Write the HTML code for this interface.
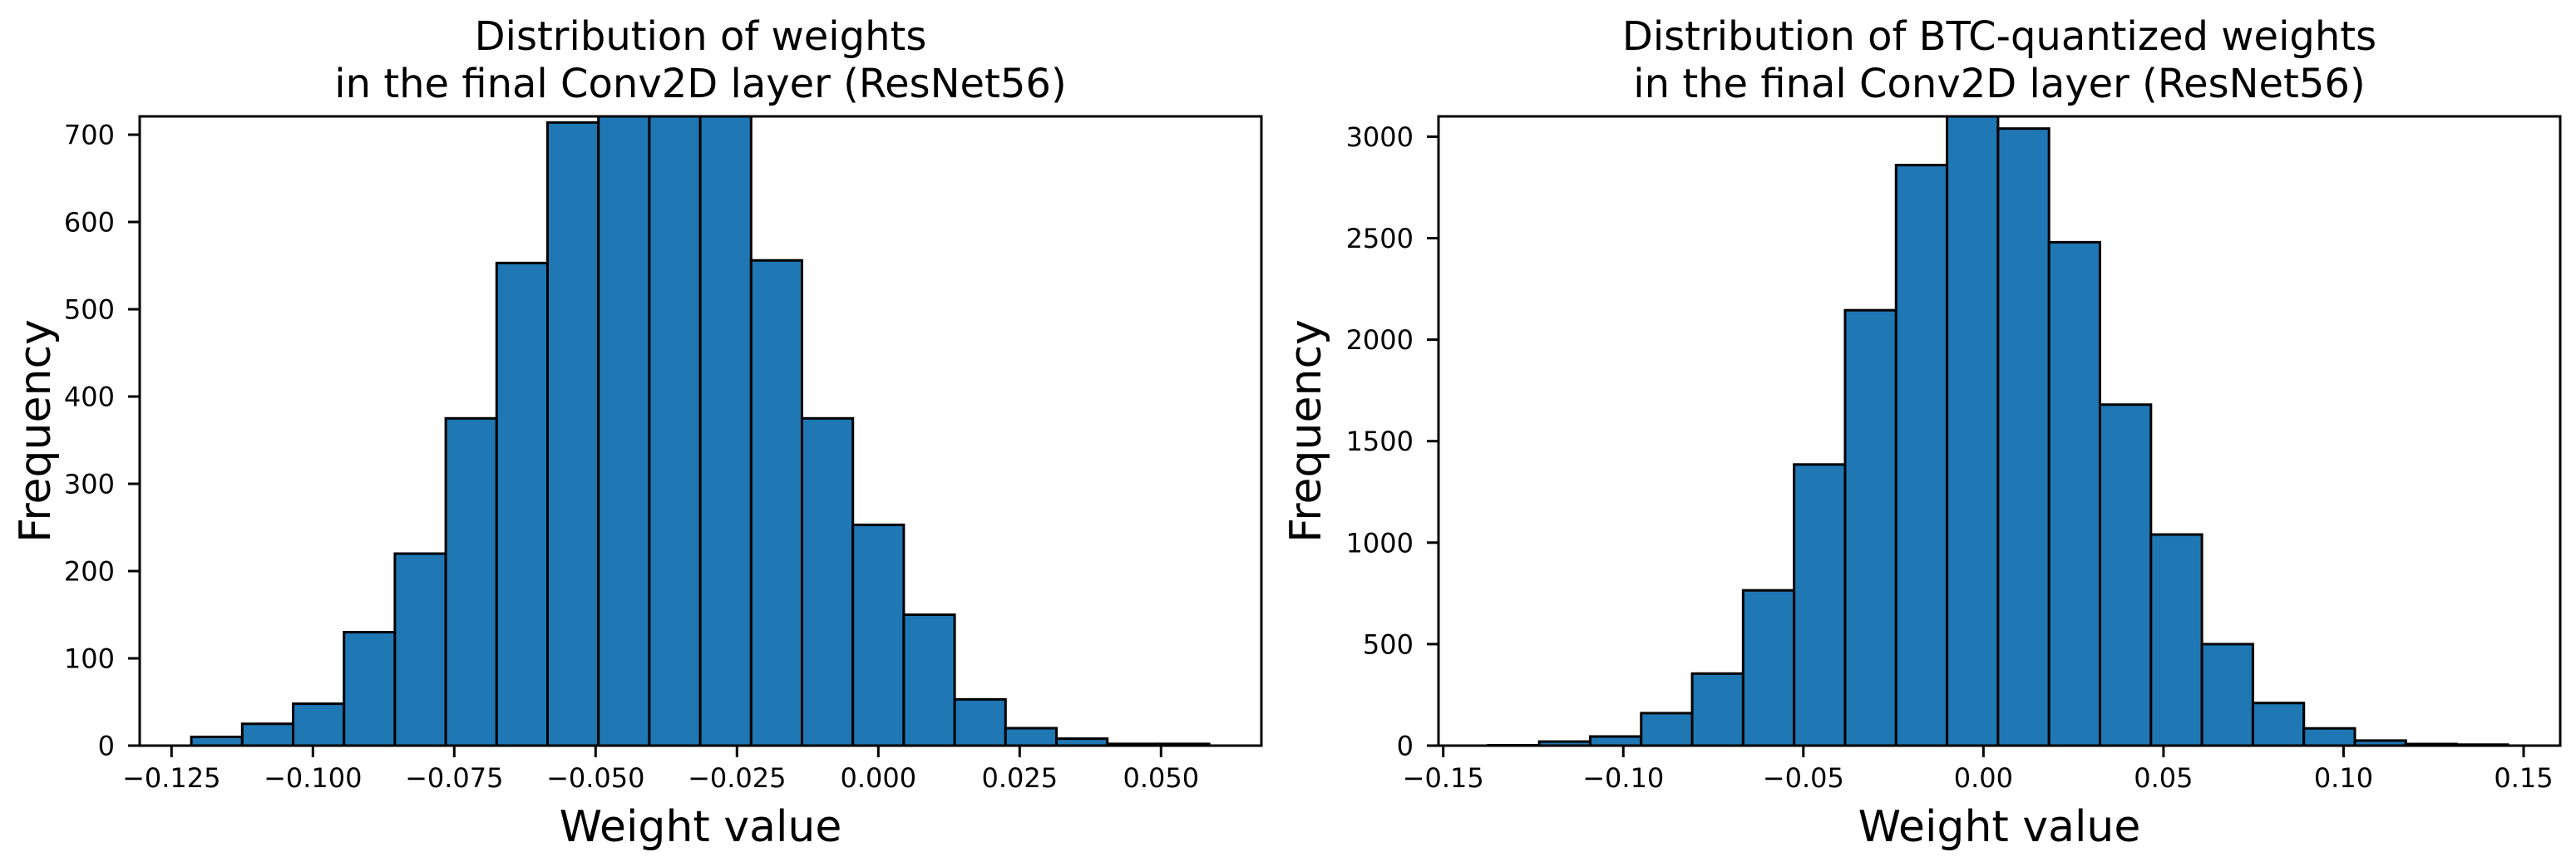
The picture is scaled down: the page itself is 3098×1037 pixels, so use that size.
<!DOCTYPE html>
<html><head><meta charset="utf-8"><style>
html,body{margin:0;padding:0;background:#fff;}
svg{display:block;font-family:"DejaVu Sans","Liberation Sans",sans-serif;}
</style></head><body>
<svg id="fig" width="3098" height="1037" viewBox="0 0 3098 1037" xmlns="http://www.w3.org/2000/svg">
<rect width="3098" height="1037" fill="#fff"/>
</svg>
<script>
// Left chart data
const leftCounts = [10, 25, 48, 130, 220, 375, 553, 714, 790, 800, 770, 556, 375, 253, 150, 53, 20, 8, 2, 2];
const leftBinStart = -0.1215;
const leftBinEnd = 0.0585;
const leftXTicks = [-0.125, -0.100, -0.075, -0.050, -0.025, 0.000, 0.025, 0.050];
const leftXTickLabels = ["\u22120.125", "\u22120.100", "\u22120.075", "\u22120.050", "\u22120.025", "0.000", "0.025", "0.050"];
const leftYTicks = [0, 100, 200, 300, 400, 500, 600, 700];
// Right chart data
const rightCounts = [2, 20, 45, 160, 355, 765, 1385, 2145, 2860, 3250, 3040, 2480, 1680, 1040, 500, 210, 85, 25, 8, 5];
const rightBinStart = -0.1375;
const rightBinEnd = 0.1456;
const rightXTicks = [-0.15, -0.10, -0.05, 0.00, 0.05, 0.10, 0.15];
const rightXTickLabels = ["\u22120.15", "\u22120.10", "\u22120.05", "0.00", "0.05", "0.10", "0.15"];
const rightYTicks = [0, 500, 1000, 1500, 2000, 2500, 3000];

const NS = "http://www.w3.org/2000/svg";
const svg = document.getElementById("fig");
function mk(tag, attrs, parent) {
  const e = document.createElementNS(NS, tag);
  for (const k in attrs) e.setAttribute(k, attrs[k]);
  (parent || svg).appendChild(e);
  return e;
}

function drawChart(cfg) {
  const g = mk("g", {});
  
  
  const L = cfg.left, R = cfg.right, T = 140, B = 897;
  const xs = v => cfg.x0px + (v - cfg.x0val) * cfg.xscale;
  const ys = v => B - (v / cfg.ymax) * (B - T);
  const clipId = cfg.name + "-clip";
  const defs = mk("defs", {}, g);
  const cp = mk("clipPath", {id: clipId}, defs);
  mk("rect", {x: L, y: T, width: R - L, height: B - T}, cp);
  const bars = mk("g", {"clip-path": "url(#" + clipId + ")"}, g);
  const n = cfg.counts.length;
  const w = (cfg.binEnd - cfg.binStart) / n;
  for (let i = 0; i < n; i++) {
    const x1 = xs(cfg.binStart + i * w), x2 = xs(cfg.binStart + (i + 1) * w);
    const y = ys(cfg.counts[i]);
    const r = mk("rect", {x: x1, y: y, width: x2 - x1, height: B - y, fill: "#1f77b4", stroke: "#000", "stroke-width": 3}, bars);
    
    
  }
  const frame = mk("rect", {x: L, y: T, width: R - L, height: B - T, fill: "none", stroke: "#000", "stroke-width": 3}, g);
  
  
  cfg.xticks.forEach((v, i) => {
    const x = xs(v);
    mk("line", {x1: x, x2: x, y1: B, y2: B + 14, stroke: "#000", "stroke-width": 3}, g);
    const t = mk("text", {x: x, y: 947, "font-size": 32, "text-anchor": "middle", fill: "#000"}, g);
    t.textContent = cfg.xlabels[i];
    
    
  });
  cfg.yticks.forEach(v => {
    const y = ys(v);
    mk("line", {x1: L - 14, x2: L, y1: y, y2: y, stroke: "#000", "stroke-width": 3}, g);
    const t = mk("text", {x: L - 30, y: y + 11.5, "font-size": 32, "text-anchor": "end", fill: "#000"}, g);
    t.textContent = String(v);
    
    
  });
  const cx = (L + R) / 2;
  const t1 = mk("text", {x: cx, y: 60, "font-size": 48, "text-anchor": "middle", fill: "#000"}, g);
  t1.textContent = cfg.title1;
  
  
  const t2 = mk("text", {x: cx, y: 117, "font-size": 48, "text-anchor": "middle", fill: "#000"}, g);
  t2.textContent = cfg.title2;
  
  
  const xl = mk("text", {x: cx, y: 1012, "font-size": 52, "text-anchor": "middle", fill: "#000"}, g);
  xl.textContent = "Weight value";
  
  
  const ycx = cfg.ylabelX, ycy = (T + B) / 2;
  const yl = mk("text", {x: ycx, y: ycy, "font-size": 52, "text-anchor": "middle", fill: "#000", transform: "rotate(-90 " + ycx + " " + ycy + ")"}, g);
  yl.textContent = "Frequency";
  
  
}

drawChart({
  name: "left-histogram", left: 168, right: 1517,
  x0px: 206.3, x0val: -0.125, xscale: 6800, ymax: 721,
  counts: leftCounts, binStart: leftBinStart, binEnd: leftBinEnd,
  xticks: leftXTicks, xlabels: leftXTickLabels, yticks: leftYTicks,
  title1: "Distribution of weights", title2: "in the final Conv2D layer (ResNet56)",
  ylabelX: 60
});
drawChart({
  name: "right-histogram", left: 1730, right: 3079,
  x0px: 1735.7, x0val: -0.15, xscale: 4331, ymax: 3100,
  counts: rightCounts, binStart: rightBinStart, binEnd: rightBinEnd,
  xticks: rightXTicks, xlabels: rightXTickLabels, yticks: rightYTicks,
  title1: "Distribution of BTC-quantized weights", title2: "in the final Conv2D layer (ResNet56)",
  ylabelX: 1588
});
</script>
</body></html>
